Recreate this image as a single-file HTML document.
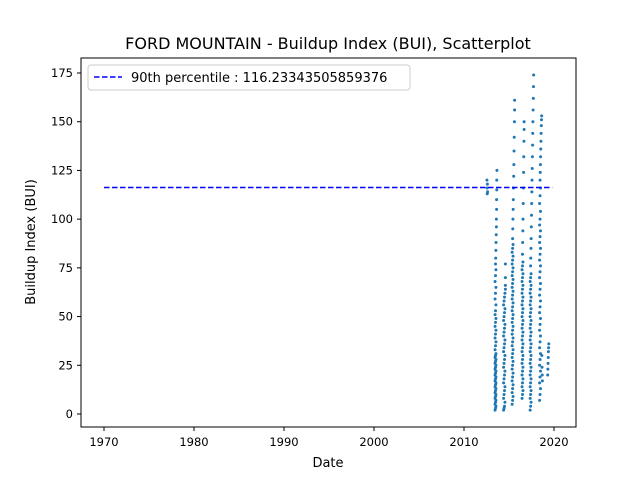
<!DOCTYPE html>
<html><head><meta charset="utf-8"><style>
body{margin:0;background:#fff;}
svg{display:block;font-family:"DejaVu Sans","Liberation Sans",sans-serif;}
</style></head><body>
<svg id="chart" width="640" height="480">
<rect width="640" height="480" fill="#fff"/>
<text x="328" y="49" text-anchor="middle" font-size="16">FORD MOUNTAIN - Buildup Index (BUI), Scatterplot</text>
<text x="328" y="467" text-anchor="middle" font-size="13">Date</text>
<text transform="translate(35,242) rotate(-90)" text-anchor="middle" font-size="13">Buildup Index (BUI)</text>
<g id="grid"></g>
<g id="marks"></g>
<rect x="81" y="58" width="495" height="369" fill="none" stroke="#000" stroke-width="1"/>
<g>
<rect x="88" y="65" width="322" height="25" rx="3" fill="#fff" stroke="#ccc"/>
<line x1="94" y1="77" x2="122" y2="77" stroke="#0000ff" stroke-width="1.5" stroke-dasharray="5.5,2.5"/>
<text x="131" y="82" font-size="13">90th percentile : 116.23343505859376</text>
</g>
</svg>
<script>
const xTicks=[1970,1980,1990,2000,2010,2020];
const yTicks=[0,25,50,75,100,125,150,175];
const percentile90=116.23343505859376;
const obs2012=[[2012.55,120],[2012.57,116],[2012.58,113],[2012.6,118],[2012.62,114]];
const obs2013=[[2013.45,2],[2013.5,3],[2013.55,4],[2013.45,5],[2013.5,6],[2013.55,7],[2013.45,8],[2013.5,9],[2013.55,10],[2013.45,11],[2013.5,12],[2013.55,13],[2013.45,14],[2013.5,15],[2013.55,16],[2013.45,17],[2013.5,18],[2013.55,19],[2013.45,20],[2013.5,21],[2013.55,22],[2013.45,23],[2013.5,24],[2013.55,25],[2013.45,26],[2013.5,27],[2013.55,28],[2013.45,29],[2013.5,30],[2013.55,31],[2013.45,33],[2013.5,35],[2013.55,37],[2013.45,39],[2013.5,41],[2013.55,43],[2013.45,45],[2013.5,47],[2013.55,49],[2013.45,51],[2013.5,53],[2013.55,56],[2013.45,59],[2013.5,62],[2013.55,65],[2013.45,68],[2013.5,71],[2013.55,74],[2013.5,77],[2013.52,80],[2013.54,84],[2013.56,88],[2013.58,92],[2013.6,96],[2013.6,100],[2013.62,105],[2013.62,110],[2013.64,115],[2013.64,120],[2013.66,125]];
const obs2014=[[2014.4,2],[2014.45,3],[2014.5,4],[2014.55,6],[2014.4,8],[2014.45,10],[2014.5,12],[2014.55,14],[2014.4,16],[2014.45,18],[2014.5,20],[2014.55,22],[2014.4,24],[2014.45,26],[2014.5,28],[2014.55,30],[2014.4,32],[2014.45,34],[2014.5,36],[2014.55,38],[2014.4,40],[2014.45,42],[2014.5,44],[2014.55,46],[2014.4,48],[2014.45,50],[2014.5,52],[2014.55,54],[2014.4,56],[2014.45,58],[2014.5,60],[2014.55,62],[2014.6,64],[2014.6,66],[2014.6,70],[2014.6,77]];
const obs2015=[[2015.35,5],[2015.4,7],[2015.45,9],[2015.35,11],[2015.4,13],[2015.45,15],[2015.35,17],[2015.4,19],[2015.45,21],[2015.35,23],[2015.4,25],[2015.45,27],[2015.35,29],[2015.4,31],[2015.45,33],[2015.35,35],[2015.4,37],[2015.45,39],[2015.35,41],[2015.4,43],[2015.45,45],[2015.35,47],[2015.4,49],[2015.45,51],[2015.35,53],[2015.4,55],[2015.45,57],[2015.35,59],[2015.4,61],[2015.45,63],[2015.35,65],[2015.4,67],[2015.45,69],[2015.35,71],[2015.4,73],[2015.45,75],[2015.35,77],[2015.4,79],[2015.45,81],[2015.35,83],[2015.4,85],[2015.45,87],[2015.4,90],[2015.42,95],[2015.44,100],[2015.46,105],[2015.48,110],[2015.5,116],[2015.52,122],[2015.54,128],[2015.56,135],[2015.58,142],[2015.6,150],[2015.62,156],[2015.62,161]];
const obs2016=[[2016.45,8],[2016.5,10],[2016.55,12],[2016.45,14],[2016.5,16],[2016.55,18],[2016.45,20],[2016.5,22],[2016.55,24],[2016.45,26],[2016.5,28],[2016.55,30],[2016.45,32],[2016.5,34],[2016.55,36],[2016.45,38],[2016.5,40],[2016.55,42],[2016.45,44],[2016.5,46],[2016.55,48],[2016.45,50],[2016.5,52],[2016.55,54],[2016.45,56],[2016.5,58],[2016.55,60],[2016.45,62],[2016.5,64],[2016.55,66],[2016.45,68],[2016.5,70],[2016.55,72],[2016.45,74],[2016.5,76],[2016.55,78],[2016.5,82],[2016.52,88],[2016.54,94],[2016.56,100],[2016.58,108],[2016.6,116],[2016.62,124],[2016.64,132],[2016.66,140],[2016.68,146],[2016.68,150]];
const obs2017=[[2017.35,2],[2017.4,4],[2017.45,6],[2017.35,8],[2017.4,10],[2017.45,12],[2017.35,14],[2017.4,16],[2017.45,18],[2017.35,20],[2017.4,22],[2017.45,24],[2017.35,26],[2017.4,28],[2017.45,30],[2017.35,32],[2017.4,34],[2017.45,36],[2017.35,38],[2017.4,40],[2017.45,42],[2017.35,44],[2017.4,46],[2017.45,48],[2017.35,50],[2017.4,52],[2017.45,54],[2017.35,56],[2017.4,58],[2017.45,60],[2017.35,62],[2017.4,64],[2017.45,66],[2017.35,68],[2017.4,70],[2017.45,72],[2017.4,76],[2017.42,80],[2017.44,85],[2017.46,90],[2017.48,96],[2017.5,102],[2017.52,108],[2017.54,114],[2017.56,120],[2017.58,126],[2017.6,132],[2017.62,138],[2017.64,144],[2017.66,150],[2017.68,156],[2017.7,162],[2017.72,168],[2017.74,174]];
const obs2018=[[2018.4,7],[2018.45,10],[2018.5,13],[2018.4,16],[2018.45,19],[2018.5,22],[2018.4,25],[2018.45,28],[2018.5,31],[2018.4,34],[2018.45,37],[2018.5,40],[2018.4,43],[2018.45,46],[2018.5,49],[2018.4,52],[2018.45,55],[2018.5,58],[2018.4,61],[2018.45,64],[2018.5,67],[2018.4,70],[2018.45,73],[2018.5,76],[2018.4,79],[2018.45,82],[2018.5,85],[2018.4,88],[2018.45,91],[2018.5,94],[2018.4,97],[2018.45,100],[2018.5,104],[2018.4,108],[2018.45,112],[2018.5,116],[2018.45,120],[2018.47,124],[2018.49,128],[2018.51,132],[2018.53,136],[2018.55,140],[2018.57,144],[2018.59,148],[2018.61,151],[2018.63,153],[2018.65,30],[2018.67,24],[2018.69,20],[2018.71,17]];
const obs2019=[[2019.3,20],[2019.32,23],[2019.34,26],[2019.36,29],[2019.38,32],[2019.4,34],[2019.42,36]];
const observations=[].concat(obs2012,obs2013,obs2014,obs2015,obs2016,obs2017,obs2018,obs2019);
const X=v=>104+(v-1970)*9;
const Y=v=>414-v*(341/175);
const ns="http://www.w3.org/2000/svg";
const grid=document.getElementById('grid'),marks=document.getElementById('marks');
function mk(tag,attrs,parent){const e=document.createElementNS(ns,tag);for(const k in attrs)e.setAttribute(k,attrs[k]);parent.appendChild(e);return e;}
xTicks.forEach(t=>{
  const l=mk('line',{x1:X(t),x2:X(t),y1:427,y2:431,stroke:'#000'},grid);
  
  
  const tx=mk('text',{x:X(t),y:446,'text-anchor':'middle','font-size':'11.5'},grid);tx.textContent=t;
  
  
});
yTicks.forEach(t=>{
  const l=mk('line',{x1:77,x2:81,y1:Y(t),y2:Y(t),stroke:'#000'},grid);
  
  
  const tx=mk('text',{x:73,y:Y(t)+4,'text-anchor':'end','font-size':'11.5'},grid);tx.textContent=t;
  
  
});
observations.forEach(p=>{
  const c=mk('circle',{cx:X(p[0]),cy:Y(p[1]),r:1.5,fill:'#1f77b4'},marks);
  
  
});
const pl=mk('line',{x1:X(1970),x2:X(2019.8),y1:Y(percentile90),y2:Y(percentile90),stroke:'#0000ff','stroke-width':1.5,'stroke-dasharray':'5.5,2.5'},marks);


</script>
</body></html>
